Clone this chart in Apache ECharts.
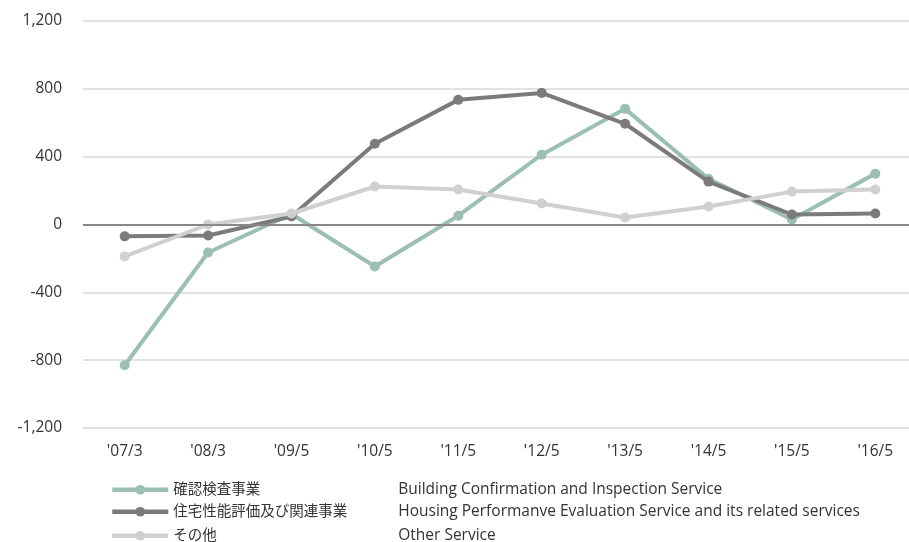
<!doctype html>
<html>
<head>
<meta charset="utf-8">
<title>Segment chart</title>
<script src="https://cdn.jsdelivr.net/npm/echarts@6/dist/echarts.min.js"></script>
<style>
html, body { margin: 0; padding: 0; background: #fff; }
#chart { width: 909px; height: 542px; }
</style>
</head>
<body>
<div id="chart"></div>
<script>
// data
var periods = ["'07/3", "'08/3", "'09/5", "'10/5", "'11/5", "'12/5", "'13/5", "'14/5", "'15/5", "'16/5"]
var names = ['確認検査事業', '住宅性能評価及び関連事業', 'その他']
var namesEn = [
    'Building Confirmation and Inspection Service',
    'Housing Performanve Evaluation Service and its related services',
    'Other Service'
]
var inspection = [-830, -165, 62, -248, 52, 412, 682, 270, 30, 300]
var housing = [-70, -65, 47, 476, 735, 776, 594, 253, 59, 65]
var other = [-188, 0, 65, 224, 206, 124, 41, 106, 194, 206]
var colors = ['#9bbfb2', '#7b7b7b', '#d0d0d0']

var font = '"Open Sans", "Noto Sans CJK JP", sans-serif'

function line(i, values) {
    return {
        name: names[i],
        type: 'line',
        data: values,
        symbol: 'circle',
        symbolSize: 10,
        color: colors[i],
        lineStyle: { width: 4, color: colors[i] },
        itemStyle: { color: colors[i] },
        z: 2 + i
    }
}

var series = [line(0, inspection), line(1, housing), line(2, other)]
// zero line
series[0].markLine = {
    silent: true,
    symbol: 'none',
    label: { show: false },
    lineStyle: { color: '#888', width: 2, type: 'solid' },
    data: [{ yAxis: 0 }]
}

// one legend per row so the rows sit where the picture has them
var legendTops = [482, 504, 528]
var legends = names.map(function (n, i) {
    return {
        orient: 'horizontal',
        left: 110,
        top: legendTops[i],
        padding: 0,
        itemWidth: 56,
        itemHeight: 12,
        lineStyle: { width: 4.5 },
        data: [n],
        formatter: function (name) {
            return '{a|' + name + '}{b|' + namesEn[names.indexOf(name)] + '}'
        },
        textStyle: {
            fontFamily: font,
            fontSize: 15,
            color: '#333',
            rich: {
                a: { width: 225, fontSize: 14.5, color: '#333', fontFamily: font },
                b: { fontSize: 15.5, color: '#333', fontFamily: font }
            }
        }
    }
})

var option = {
    animation: false,
    textStyle: { fontFamily: font },
    grid: { left: 83, top: 21, width: 834, height: 407, containLabel: false, outerBoundsMode: 'none' },
    legend: legends,
    xAxis: {
        type: 'category',
        data: periods,
        boundaryGap: true,
        axisLine: { show: false },
        axisTick: { show: false },
        axisLabel: { color: '#333', fontSize: 15.5, margin: 16, fontFamily: font }
    },
    yAxis: {
        type: 'value',
        min: -1200,
        max: 1200,
        interval: 400,
        axisLine: { show: false },
        axisTick: { show: false },
        axisLabel: {
            color: '#333',
            fontSize: 15.5,
            margin: 21,
            fontFamily: font,
            formatter: function (v) { return v.toLocaleString('en-US') }
        },
        splitLine: { lineStyle: { color: '#d9d9d9', width: 1.5 } }
    },
    series: series
}

var chart = echarts.init(document.getElementById('chart'))
chart.setOption(option)
</script>
</body>
</html>
